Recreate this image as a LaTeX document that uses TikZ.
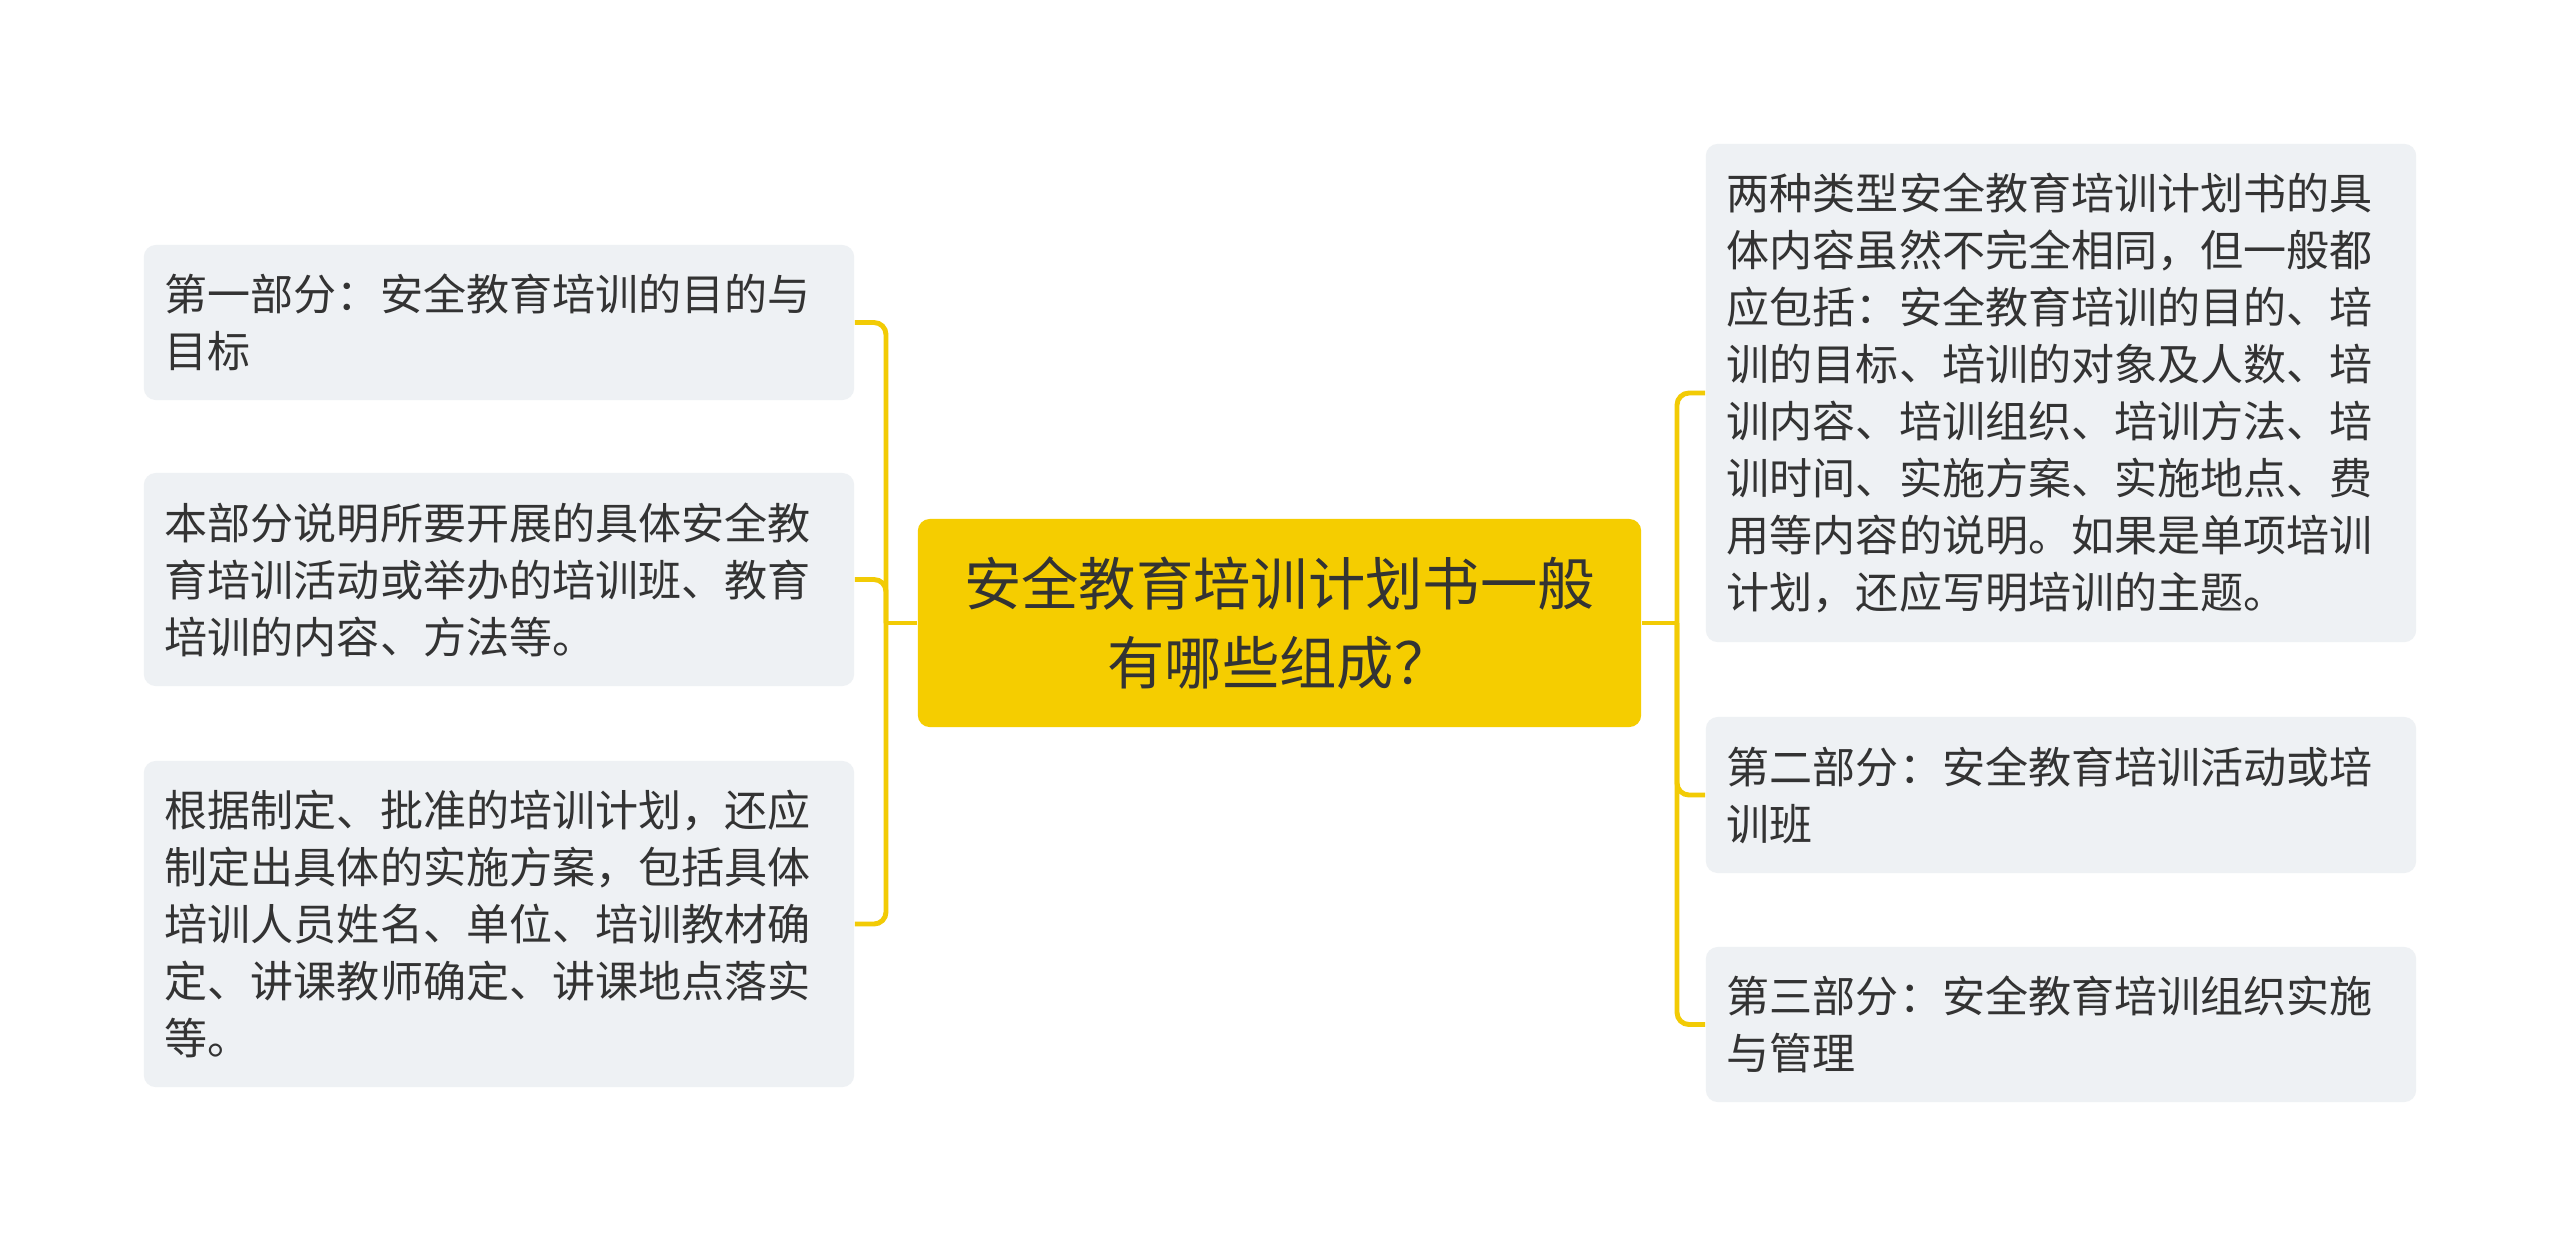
\documentclass[tikz,border=0pt]{standalone}
\usepackage{fontspec}
\setmainfont{Noto Sans CJK SC}
\usetikzlibrary{positioning}

\definecolor{branchyellow}{HTML}{F2CB05}
\definecolor{rootyellow}{HTML}{F5CD00}
\definecolor{leafgrey}{HTML}{EEF1F4}
\definecolor{textgrey}{HTML}{333333}

\tikzset{
	leaf/.style={fill=leafgrey, rounded corners=0.12cm, text=textgrey,
		minimum width=7.1cm, text width=6.68cm, align=left, inner sep=0pt,
		font=\fontsize{12.24pt}{16.2pt}\selectfont},
	root/.style={fill=rootyellow, rounded corners=0.12cm, text=textgrey,
		minimum width=7.23cm, minimum height=2.08cm, align=center, inner sep=0pt,
		font=\fontsize{16.3pt}{22.7pt}\selectfont},
	link/.style={draw=branchyellow, line width=1.4pt, rounded corners=0.12cm}
}

\begin{document}
\begin{tikzpicture}[x=0.01cm, y=-0.01cm]

	\fill[white] (0,0) rectangle (2560,1247);
	\useasboundingbox (0,0) rectangle (2560,1247);

	\node[root] (c) at (1279.5,623) {安全教育培训计划书一般\\有哪些组成？};

	\node[leaf, minimum height=1.55cm] (l1) at (499,322.5) {第一部分：安全教育培训的目的与\\目标};
	\node[leaf, minimum height=2.13cm] (l2) at (499,579.5) {本部分说明所要开展的具体安全教\\育培训活动或举办的培训班、教育\\培训的内容、方法等。};
	\node[leaf, minimum height=3.26cm] (l3) at (499,924) {根据制定、批准的培训计划，还应\\制定出具体的实施方案，包括具体\\培训人员姓名、单位、培训教材确\\定、讲课教师确定、讲课地点落实\\等。};

	\node[leaf, minimum height=4.98cm] (r1) at (2061,393) {两种类型安全教育培训计划书的具\\体内容虽然不完全相同，但一般都\\应包括：安全教育培训的目的、培\\训的目标、培训的对象及人数、培\\训内容、培训组织、培训方法、培\\训时间、实施方案、实施地点、费\\用等内容的说明。如果是单项培训\\计划，还应写明培训的主题。};
	\node[leaf, minimum height=1.56cm] (r2) at (2061,795) {第二部分：安全教育培训活动或培\\训班};
	\node[leaf, minimum height=1.55cm] (r3) at (2061,1024.5) {第三部分：安全教育培训组织实施\\与管理};

	\coordinate (lj) at (886,623);
	\coordinate (rj) at (1677,623);

	\draw[link] (c.west) -- (lj);
	\draw[link] (lj) |- (l1.east);
	\draw[link] (lj) |- (l2.east);
	\draw[link] (lj) |- (l3.east);

	\draw[link] (c.east) -- (rj);
	\draw[link] (rj) |- (r1.west);
	\draw[link] (rj) |- (r2.west);
	\draw[link] (rj) |- (r3.west);

\end{tikzpicture}
\end{document}
